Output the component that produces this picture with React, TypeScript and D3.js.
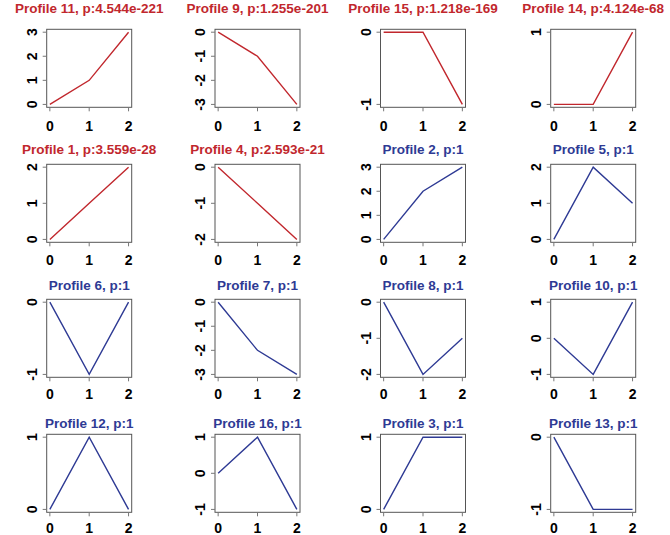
import { scaleLinear, line, range, extent } from "d3";

// profiles in panel order (row by row)
const titles = [
  "Profile 11, p:4.544e-221", "Profile 9, p:1.255e-201", "Profile 15, p:1.218e-169", "Profile 14, p:4.124e-68",
  "Profile 1, p:3.559e-28", "Profile 4, p:2.593e-21", "Profile 2, p:1", "Profile 5, p:1",
  "Profile 6, p:1", "Profile 7, p:1", "Profile 8, p:1", "Profile 10, p:1",
  "Profile 12, p:1", "Profile 16, p:1", "Profile 3, p:1", "Profile 13, p:1",
];
const significant = [
  true, true, true, true,
  true, true, false, false,
  false, false, false, false,
  false, false, false, false,
];
const profiles = [
  [0, 1, 3], [0, -1, -3], [0, 0, -1], [0, 0, 1],
  [0, 1, 2], [0, -1, -2], [0, 2, 3], [0, 2, 1],
  [0, -1, 0], [0, -2, -3], [0, -2, -1], [0, -1, 1],
  [0, 1, 0], [0, 1, -1], [0, 1, 1], [0, -1, -1],
];
const timePoints = [0, 1, 2];

const RED = "#c1272d";
const BLUE = "#2e3a94";
const FONT = "'Liberation Sans', Arial, Helvetica, sans-serif";

// layout of the 4x4 grid
const colLeft = [46.7, 215, 380.5, 550.7];
const rowTop = [29.3, 164.3, 299.3, 434.3];
const titleGap = [16, 10, 9.5, 6.5];
const xLabGap = [23.7, 22.5, 21.3, 20.5];
const W = 85;
const H = 78;

function padded(lo: number, hi: number): [number, number] {
  const p = (hi - lo) * 0.04;
  return [lo - p, hi + p];
}

function Panel({ i }: { i: number }) {
  const r = Math.floor(i / 4);
  const c = i % 4;
  const x0 = colLeft[c];
  const y0 = rowTop[r];
  const vals = profiles[i];
  const [lo, hi] = extent(vals) as [number, number];
  const x = scaleLinear().domain(padded(0, 2)).range([x0, x0 + W]);
  const y = scaleLinear().domain(padded(lo, hi)).range([y0 + H, y0]);
  const yTicks = range(lo, hi + 1);
  const col = significant[i] ? RED : BLUE;
  const path = line<number>()
    .x((_, k) => x(timePoints[k]))
    .y((d) => y(d))(vals);

  return (
    <g>
      <text
        x={x0 + W / 2}
        y={y0 - titleGap[r]}
        textAnchor="middle"
        fontFamily={FONT}
        fontWeight="bold"
        fontSize={13.5}
        fill={col}
      >
        {titles[i]}
      </text>
      <path d={path ?? ""} fill="none" stroke={col} strokeWidth={1.4} />
      <rect x={x0} y={y0} width={W} height={H} fill="none" stroke="#555" strokeWidth={1} />
      {timePoints.map((t) => (
        <g key={"x" + t}>
          <line x1={x(t)} x2={x(t)} y1={y0 + H} y2={y0 + H + 4} stroke="#777" />
          <text
            x={x(t)}
            y={y0 + H + xLabGap[r]}
            textAnchor="middle"
            fontFamily={FONT}
            fontWeight="bold"
            fontSize={14}
            fill="#000"
          >
            {String(t)}
          </text>
        </g>
      ))}
      {yTicks.map((t) => (
        <g key={"y" + t}>
          <line x1={x0 - 4} x2={x0} y1={y(t)} y2={y(t)} stroke="#777" />
          <text
            transform={`translate(${x0 - 10},${y(t)}) rotate(-90)`}
            textAnchor="middle"
            fontFamily={FONT}
            fontWeight="bold"
            fontSize={14}
            fill="#000"
          >
            {String(t)}
          </text>
        </g>
      ))}
    </g>
  );
}

export default function App() {
  return (
    <svg
      width={670}
      height={535}
      style={{ position: "absolute", left: 0, top: 0, background: "#fff" }}
    >
      <rect width={670} height={535} fill="#fff" />
      {profiles.map((_, i) => (
        <Panel key={i} i={i} />
      ))}
    </svg>
  );
}
